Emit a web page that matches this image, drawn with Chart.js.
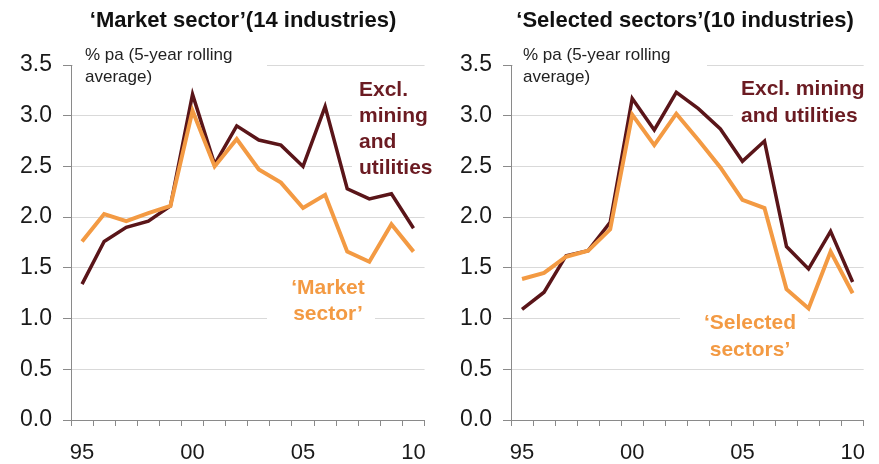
<!DOCTYPE html>
<html>
<head>
<meta charset="utf-8">
<script src="https://cdn.jsdelivr.net/npm/chart.js@4/dist/chart.umd.min.js"></script>
<style>
  html, body { margin: 0; padding: 0; background: #fff; }
  .panel { position: absolute; top: 0; height: 464px; }
  #left { left: 0; width: 440px; }
  #right { left: 440px; width: 439px; }
</style>
</head>
<body>
<div class="panel" id="left"><canvas id="marketChart"></canvas></div>
<div class="panel" id="right"><canvas id="selectedChart"></canvas></div>
<script>
// years 1995 .. 2010
const years = ['95','96','97','98','99','00','01','02','03','04','05','06','07','08','09','10'];
const shownYears = ['95','00','05','10'];
const yTicks = [0, 0.5, 1.0, 1.5, 2.0, 2.5, 3.0, 3.5];

// 'Market sector' (14 industries)
const marketAll =   [1.76, 2.03, 1.96, 2.04, 2.11, 3.05, 2.50, 2.77, 2.47, 2.34, 2.09, 2.22, 1.66, 1.56, 1.93, 1.66];
const marketExcl =  [1.34, 1.76, 1.90, 1.96, 2.11, 3.21, 2.52, 2.90, 2.76, 2.71, 2.50, 3.09, 2.28, 2.18, 2.23, 1.89];

// 'Selected sectors' (10 industries)
const selectedAll =  [1.39, 1.45, 1.61, 1.67, 1.88, 3.01, 2.71, 3.02, 2.76, 2.49, 2.17, 2.09, 1.29, 1.10, 1.66, 1.25];
const selectedExcl = [1.09, 1.26, 1.62, 1.67, 1.95, 3.17, 2.86, 3.23, 3.07, 2.87, 2.55, 2.75, 1.71, 1.49, 1.86, 1.36];

const ORANGE = '#F39A43';
const MAROON = '#5A1519';
const FONT = '"Liberation Sans", Arial, sans-serif';

// draws the panel title, the unit note and the in-chart labels (with white boxes that cut the grid)
const panelText = {
  id: 'panelText',
  beforeDatasetsDraw(chart, args, opts) {
    const ctx = chart.ctx;
    ctx.save();
    ctx.fillStyle = '#fff';
    opts.masks.forEach(m => ctx.fillRect(m[0], m[1], m[2], m[3]));
    opts.notes.forEach(n => {
      ctx.font = n.font;
      ctx.fillStyle = n.color;
      ctx.textAlign = n.align;
      ctx.textBaseline = 'middle';
      n.lines.forEach((line, i) => ctx.fillText(line, n.x, n.y + i * n.lh));
    });
    ctx.restore();
  },
  afterDraw(chart, args, opts) {
    const ctx = chart.ctx;
    ctx.save();
    ctx.font = 'bold 22px ' + FONT;
    ctx.fillStyle = '#111';
    ctx.textAlign = 'center';
    ctx.textBaseline = 'middle';
    ctx.fillText(opts.title, opts.titleX, 21);
    ctx.restore();
  }
};

function makeChart(canvasId, allData, exclData, padRight, text) {
  const canvas = document.getElementById(canvasId);
  return new Chart(canvas.getContext('2d'), {
    type: 'line',
    data: {
      labels: years,
      datasets: [
        { label: 'All', data: allData, borderColor: ORANGE, borderWidth: 4, pointRadius: 0, tension: 0 },
        { label: 'Excl. mining and utilities', data: exclData, borderColor: MAROON, borderWidth: 3.5, pointRadius: 0, tension: 0 }
      ]
    },
    options: {
      responsive: true,
      maintainAspectRatio: false,
      animation: false,
      layout: { padding: { top: 65, right: padRight, left: 0, bottom: 0 } },
      plugins: {
        legend: { display: false },
        tooltip: { enabled: false },
        panelText: text
      },
      scales: {
        x: {
          offset: true,
          afterFit: s => { s.height = 44; },
          grid: { offset: true, drawOnChartArea: false, drawTicks: true, tickLength: 6, color: '#8a8a8a' },
          border: { color: '#8a8a8a', width: 1 },
          ticks: {
            autoSkip: false, maxRotation: 0, padding: 14,
            color: '#1a1a1a', font: { family: FONT, size: 22 },
            callback: function(v, i) { return shownYears.includes(years[i]) ? years[i] : ''; }
          }
        },
        y: {
          min: 0, max: 3.5,
          afterFit: s => { s.width = 71; },
          afterBuildTicks: s => { s.ticks = yTicks.map(v => ({ value: v })); },
          grid: { color: '#d9d9d9', lineWidth: 1, tickColor: '#8a8a8a', tickLength: 8 },
          border: { color: '#8a8a8a', width: 1 },
          ticks: {
            padding: 11, color: '#1a1a1a', font: { family: FONT, size: 23 },
            callback: v => Number(v).toFixed(1)
          }
        }
      }
    },
    plugins: [panelText]
  });
}

makeChart('marketChart', marketAll, marketExcl, 8, {
  title: '\u2018Market sector\u2019(14 industries)',
  titleX: 243,
  masks: [[73, 45, 194, 42], [352, 74, 88, 108], [267, 274, 108, 56]],
  notes: [
    { lines: ['% pa (5-year rolling', 'average)'], x: 85, y: 55, lh: 22, font: '17px ' + FONT, color: '#222', align: 'left' },
    { lines: ['Excl.', 'mining', 'and', 'utilities'], x: 359, y: 90, lh: 26, font: 'bold 21px ' + FONT, color: '#6B1B22', align: 'left' },
    { lines: ['\u2018Market', 'sector\u2019'], x: 328, y: 288, lh: 26, font: 'bold 21px ' + FONT, color: '#F39A43', align: 'center' }
  ]
});

makeChart('selectedChart', selectedAll, selectedExcl, 4, {
  title: '\u2018Selected sectors\u2019(10 industries)',
  titleX: 245,
  masks: [[73, 45, 194, 42], [293, 72, 146, 58], [240, 300, 128, 62]],
  notes: [
    { lines: ['% pa (5-year rolling', 'average)'], x: 83, y: 55, lh: 22, font: '17px ' + FONT, color: '#222', align: 'left' },
    { lines: ['Excl. mining', 'and utilities'], x: 301, y: 89, lh: 27, font: 'bold 21px ' + FONT, color: '#6B1B22', align: 'left' },
    { lines: ['\u2018Selected', 'sectors\u2019'], x: 310, y: 323, lh: 27, font: 'bold 21px ' + FONT, color: '#F39A43', align: 'center' }
  ]
});
</script>
</body>
</html>
